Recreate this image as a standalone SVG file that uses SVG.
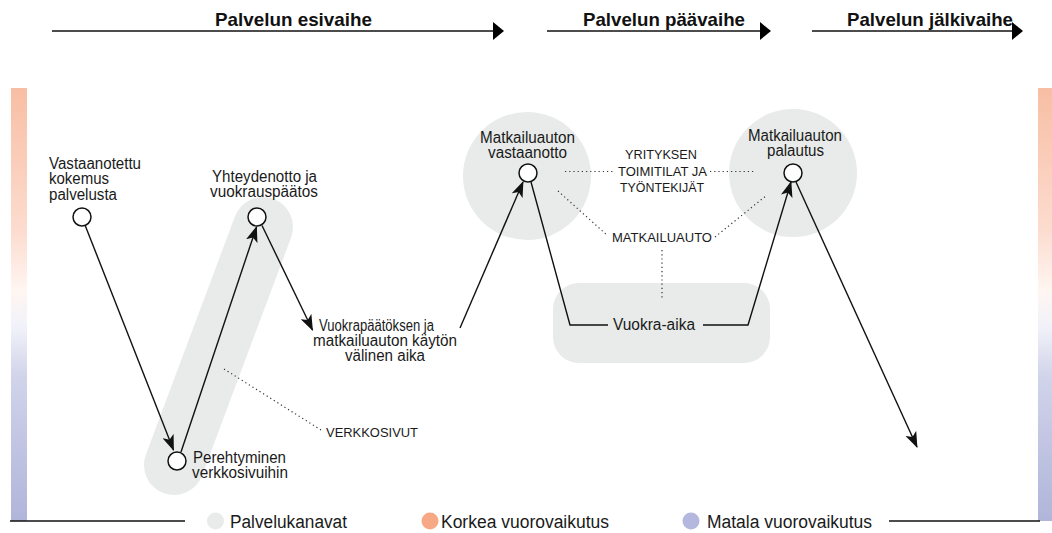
<svg xmlns="http://www.w3.org/2000/svg" width="1052" height="533" viewBox="0 0 1052 533">
  <defs>
    <linearGradient id="barGrad" x1="0" y1="0" x2="0" y2="1">
      <stop offset="0" stop-color="#f8bea4"/>
      <stop offset="0.33" stop-color="#fcdccf"/>
      <stop offset="0.47" stop-color="#fff6f2"/>
      <stop offset="0.55" stop-color="#f1f2f9"/>
      <stop offset="0.67" stop-color="#d0d3ea"/>
      <stop offset="1" stop-color="#b0b5da"/>
    </linearGradient>
    <marker id="head" viewBox="0 0 16 12" refX="15" refY="6" markerWidth="16" markerHeight="12" markerUnits="userSpaceOnUse" orient="auto">
      <path d="M0,0 L16,6 L0,12 L4,6 Z" fill="#111"/>
    </marker>
    <marker id="phaseHead" viewBox="0 0 11 18" refX="10" refY="9" markerWidth="11" markerHeight="18" markerUnits="userSpaceOnUse" orient="auto">
      <path d="M0,0 L11,9 L0,18 Z" fill="#000"/>
    </marker>
  </defs>
  <style>
    .lbl { font-family: "Liberation Sans", Arial, sans-serif; font-size: 16px; fill: #1a1a1a; }
    .caps { font-family: "Liberation Sans", Arial, sans-serif; font-size: 13.5px; fill: #1a1a1a; }
    .legend { font-family: "Liberation Sans", Arial, sans-serif; font-size: 18px; fill: #1a1a1a; }
    .phase { font-family: "Liberation Sans", Arial, sans-serif; font-size: 18.5px; font-weight: bold; fill: #111; }
    .channel { fill: #e8ebe9; }
    .node { fill: #fff; stroke: #111; stroke-width: 1.5; }
    .flow { fill: none; stroke: #111; stroke-width: 1.4; }
    .dots { fill: none; stroke: #333; stroke-width: 1.2; stroke-dasharray: 1.2 3; }
    .rule { stroke: #111; stroke-width: 1.5; }
  </style>

  <!-- phase headers -->
  <g id="phases">
    <line class="rule" x1="52" y1="31" x2="503" y2="31" marker-end="url(#phaseHead)"/>
    <text class="phase" x="215" y="26" textLength="157" lengthAdjust="spacingAndGlyphs">Palvelun esivaihe</text>
    <line class="rule" x1="547" y1="31" x2="770" y2="31" marker-end="url(#phaseHead)"/>
    <text class="phase" x="583" y="26" textLength="162" lengthAdjust="spacingAndGlyphs">Palvelun päävaihe</text>
    <line class="rule" x1="812" y1="31" x2="1022" y2="31" marker-end="url(#phaseHead)"/>
    <text class="phase" x="847" y="26" textLength="166" lengthAdjust="spacingAndGlyphs">Palvelun jälkivaihe</text>
  </g>

  <!-- interaction scale bars -->
  <g id="scale-bars">
    <rect x="11" y="88" width="16" height="433" fill="url(#barGrad)"/>
    <rect x="1038" y="88" width="14" height="433" fill="url(#barGrad)"/>
  </g>

  <!-- service channels (grey areas) -->
  <g id="channels">
    <line x1="263" y1="227" x2="174" y2="465" stroke="#e8ebe9" stroke-width="60" stroke-linecap="round"/>
    <circle class="channel" cx="527" cy="176" r="64"/>
    <circle class="channel" cx="793" cy="173" r="64"/>
    <rect class="channel" x="553" y="283" width="217" height="80" rx="26"/>
  </g>

  <!-- connectors -->
  <g id="connectors">
    <line class="flow" x1="85" y1="225" x2="173.5" y2="450" marker-end="url(#head)"/>
    <line class="flow" x1="181" y1="452" x2="256.5" y2="227" marker-end="url(#head)"/>
    <line class="flow" x1="262" y1="225.5" x2="312.5" y2="330" marker-end="url(#head)"/>
    <line class="flow" x1="460" y1="328" x2="523" y2="182" marker-end="url(#head)"/>
    <polyline class="flow" points="531,182 570,325 608,325"/>
    <polyline class="flow" points="703,325 748,325 791,182" marker-end="url(#head)"/>
    <line class="flow" x1="796" y1="182" x2="917" y2="447" marker-end="url(#head)"/>
    <line class="dots" x1="224" y1="369" x2="321" y2="430"/>
    <line class="dots" x1="565" y1="171.5" x2="614" y2="171.5"/>
    <line class="dots" x1="710" y1="171.5" x2="755" y2="171.5"/>
    <line class="dots" x1="558" y1="191" x2="608" y2="236"/>
    <line class="dots" x1="715" y1="237" x2="767" y2="195"/>
    <line class="dots" x1="662" y1="250" x2="662" y2="299"/>
  </g>

  <g id="n-vastaanotettu">
    <circle class="node" cx="82" cy="217" r="9"/>
    <text class="lbl" x="49" y="168.5" textLength="92" lengthAdjust="spacingAndGlyphs">Vastaanotettu</text>
    <text class="lbl" x="49" y="184" textLength="60" lengthAdjust="spacingAndGlyphs">kokemus</text>
    <text class="lbl" x="49" y="199.5" textLength="68" lengthAdjust="spacingAndGlyphs">palvelusta</text>
  </g>

  <g id="n-yhteydenotto">
    <circle class="node" cx="257" cy="217" r="9"/>
    <text class="lbl" x="212" y="182" textLength="105" lengthAdjust="spacingAndGlyphs">Yhteydenotto ja</text>
    <text class="lbl" x="210" y="197" textLength="108" lengthAdjust="spacingAndGlyphs">vuokrauspäätos</text>
  </g>

  <g id="n-perehtyminen">
    <circle class="node" cx="177" cy="461" r="9"/>
    <text class="lbl" x="193" y="462.5" textLength="93" lengthAdjust="spacingAndGlyphs">Perehtyminen</text>
    <text class="lbl" x="192" y="478" textLength="96" lengthAdjust="spacingAndGlyphs">verkkosivuihin</text>
  </g>

  <g id="n-verkkosivut">
    <text class="caps" x="326" y="437" textLength="92" lengthAdjust="spacingAndGlyphs">VERKKOSIVUT</text>
  </g>

  <g id="n-valiaika">
    <text class="lbl" x="319" y="331" textLength="115" lengthAdjust="spacingAndGlyphs">Vuokrapäätöksen ja</text>
    <text class="lbl" x="313" y="346" textLength="144" lengthAdjust="spacingAndGlyphs">matkailuauton käytön</text>
    <text class="lbl" x="345" y="361" textLength="80" lengthAdjust="spacingAndGlyphs">välinen aika</text>
  </g>

  <g id="n-vastaanotto">
    <circle class="node" cx="528" cy="173" r="9"/>
    <text class="lbl" x="480" y="143" textLength="95" lengthAdjust="spacingAndGlyphs">Matkailuauton</text>
    <text class="lbl" x="488" y="158" textLength="79" lengthAdjust="spacingAndGlyphs">vastaanotto</text>
  </g>

  <g id="n-toimitilat">
    <text class="caps" x="625" y="159" textLength="72" lengthAdjust="spacingAndGlyphs">YRITYKSEN</text>
    <text class="caps" x="618" y="176" textLength="89" lengthAdjust="spacingAndGlyphs">TOIMITILAT JA</text>
    <text class="caps" x="620" y="192" textLength="84" lengthAdjust="spacingAndGlyphs">TYÖNTEKIJÄT</text>
  </g>

  <g id="n-matkailuauto">
    <text class="caps" x="612" y="242" textLength="100" lengthAdjust="spacingAndGlyphs">MATKAILUAUTO</text>
  </g>

  <g id="n-vuokra-aika">
    <text class="lbl" x="613" y="330" textLength="82" lengthAdjust="spacingAndGlyphs">Vuokra-aika</text>
  </g>

  <g id="n-palautus">
    <circle class="node" cx="793" cy="173" r="9"/>
    <text class="lbl" x="748" y="141" textLength="94" lengthAdjust="spacingAndGlyphs">Matkailuauton</text>
    <text class="lbl" x="767" y="156" textLength="57" lengthAdjust="spacingAndGlyphs">palautus</text>
  </g>

  <!-- legend -->
  <g id="legend">
    <line class="rule" x1="10" y1="521" x2="185" y2="521"/>
    <line class="rule" x1="889" y1="521" x2="1040" y2="521"/>
    <circle cx="215.5" cy="521" r="8.5" fill="#e8ebe9"/>
    <text class="legend" x="230" y="527.5" textLength="117" lengthAdjust="spacingAndGlyphs">Palvelukanavat</text>
    <circle cx="430" cy="521" r="8.5" fill="#f7a985"/>
    <text class="legend" x="441" y="527.5" textLength="168" lengthAdjust="spacingAndGlyphs">Korkea vuorovaikutus</text>
    <circle cx="691" cy="521" r="8.5" fill="#b5b8de"/>
    <text class="legend" x="707" y="527.5" textLength="165" lengthAdjust="spacingAndGlyphs">Matala vuorovaikutus</text>
  </g>
</svg>
